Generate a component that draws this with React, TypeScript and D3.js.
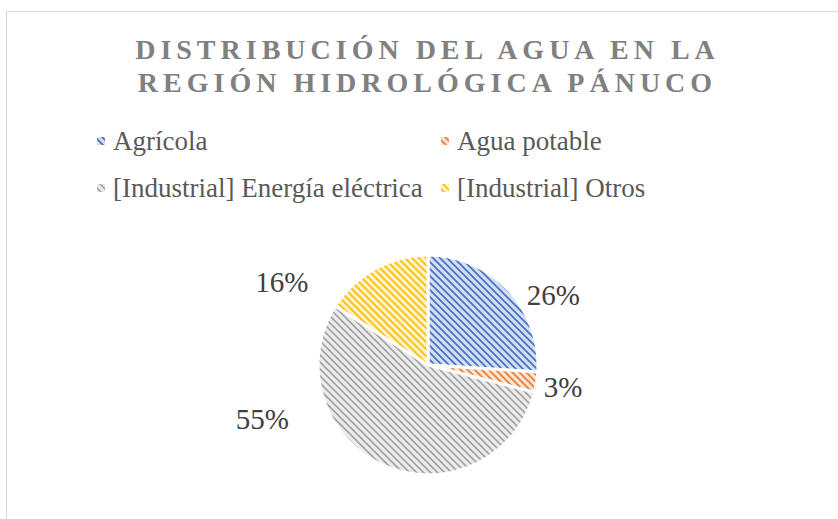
import React from "react";
import * as d3 from "d3";

const categories = ["Agrícola", "Agua potable", "[Industrial] Energía eléctrica", "[Industrial] Otros"];
const values = [26, 3, 55, 16];
const fgColors = ["#4472c4", "#ed7d31", "#a5a5a5", "#ffc000"];
const bgColors = ["#d4def2", "#fbe3d3", "#ececec", "#fff1c9"];
const labelNudges: [number, number][] = [[16, 33], [-13, -2], [-106, -84], [-74, 48]];
const titleLines = ["DISTRIBUCIÓN DEL AGUA EN LA", "REGIÓN HIDROLÓGICA PÁNUCO"];

const W = 838;
const H = 519;
const cx = 428;
const cy = 365;
const r = 110;
const SERIF = "'Liberation Serif', 'Times New Roman', Times, serif";

export default function App() {
  const pie = d3.pie<number>().sort(null).value((d) => d);
  const arcs = pie(values);
  const arc = d3.arc<d3.PieArcDatum<number>>().innerRadius(0).outerRadius(r);
  const labelArc = d3.arc<d3.PieArcDatum<number>>().innerRadius(150).outerRadius(150);
  const total = d3.sum(values);
  const fmt = d3.format(".0%");

  const legendPos = [
    [0, 0],
    [1, 0],
    [0, 1],
    [1, 1],
  ];
  const colX = [97, 441];
  const rowY = [141, 188];

  return (
    <svg
      width={W}
      height={H}
      style={{ position: "absolute", left: 0, top: 0, background: "#fff", fontFamily: SERIF }}
    >
      <defs>
        {fgColors.map((c, i) => (
          <pattern
            key={i}
            id={`pat${i}`}
            patternUnits="userSpaceOnUse"
            width={7}
            height={7}
          >
            <rect width={7} height={7} fill={bgColors[i]} />
            <path d="M-2,5 L2,9 M0,0 L7,7 M5,-2 L9,2" stroke={c} strokeWidth={1.7} />
          </pattern>
        ))}
      </defs>
      <rect x={6.5} y={11.5} width={900} height={600} fill="#fff" stroke="#d9d9d9" strokeWidth={1} />
      {titleLines.map((t, i) => (
        <text
          key={i}
          x={425 + 2.5}
          y={59 + i * 33}
          textAnchor="middle"
          fontSize={28}
          fontWeight="bold"
          letterSpacing={5}
          fill="#808080"
          style={{ fontFamily: SERIF }}
        >
          {t}
        </text>
      ))}
      {categories.map((c, i) => {
        const [col, row] = legendPos[i];
        return (
          <g key={c}>
            <rect x={colX[col]} y={rowY[row] - 4} width={8} height={8} fill={`url(#pat${i})`} />
            <text
              x={colX[col] + 16}
              y={rowY[row]}
              dy="0.35em"
              fontSize={27}
              fill="#595959"
              style={{ fontFamily: SERIF }}
            >
              {c}
            </text>
          </g>
        );
      })}
      <g transform={`translate(${cx},${cy})`}>
        {arcs.map((a, i) => (
          <path key={i} d={arc(a) || ""} fill={`url(#pat${i})`} stroke="#fff" strokeWidth={3} strokeLinejoin="round" />
        ))}
        {arcs.map((a, i) => {
          const [lx, ly] = labelArc.centroid(a);
          return (
            <text
              key={i}
              x={lx + labelNudges[i][0]}
              y={ly + labelNudges[i][1]}
              dy="0.35em"
              textAnchor="middle"
              fontSize={29}
              fill="#404040"
              style={{ fontFamily: SERIF }}
            >
              {fmt(values[i] / total)}
            </text>
          );
        })}
      </g>
    </svg>
  );
}
